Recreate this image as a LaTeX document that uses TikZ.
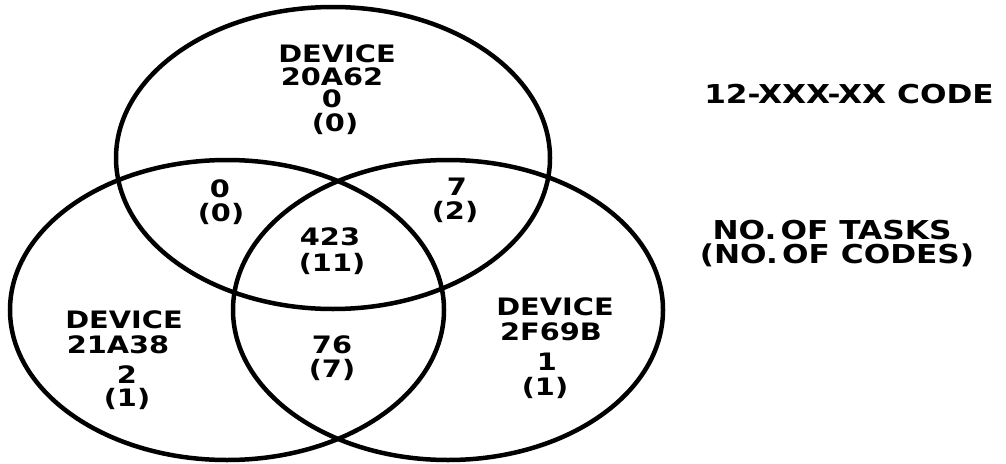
\documentclass[tikz,border=0pt]{standalone}
\usepackage{fontspec}
\newfontfamily\lab{DejaVu Sans}[FakeStretch=1.2]
\tikzset{
  ring/.style={draw=black, line width=4.5pt},
  txt/.style={anchor=base, inner sep=0pt, font=\lab\bfseries\fontsize{24}{24}\selectfont},
  leg/.style={anchor=base, inner sep=0pt, font=\lab\bfseries\fontsize{26}{26}\selectfont}
}
\begin{document}
\begin{tikzpicture}[x=1pt,y=-1pt]
\useasboundingbox (0,0) rectangle (1006,463);
% circles
\draw[ring] (333,158) ellipse [x radius=217pt, y radius=151pt];
\draw[ring] (227,310) ellipse [x radius=217pt, y radius=150pt];
\draw[ring] (448,310) ellipse [x radius=215pt, y radius=150pt];
% top device
\node[txt] (tA) at (337,62) {DEVICE};
\node[txt] (tB) at (332,85) {20A62};
\node[txt] (tC) at (332,107) {0};
\node[txt] (tD) at (335,131) {(0)};
% top-left overlap
\node[txt] (lA) at (220,197) {0};
\node[txt] (lB) at (221,221) {(0)};
% top-right overlap
\node[txt] (rA) at (457,195) {7};
\node[txt] (rB) at (455,219) {(2)};
% centre
\node[txt] (cA) at (330,245) {423};
\node[txt] (cB) at (332,271) {(11)};
% bottom overlap
\node[txt] (bA) at (332,353) {76};
\node[txt] (bB) at (332,377) {(7)};
% left device
\node[txt] (dA) at (124,328) {DEVICE};
\node[txt] (dB) at (118,353) {21A38};
\node[txt] (dC) at (127,383) {2};
\node[txt] (dD) at (127,406) {(1)};
% right device
\node[txt] (eA) at (555,315) {DEVICE};
\node[txt] (eB) at (551,340) {2F69B};
\node[txt] (eC) at (547,370) {1};
\node[txt] (eD) at (545,395) {(1)};
% legend
\node[leg] (g1) at (849,103) {12-XXX-XX CODE};
\node[leg] (g2) at (832,239) {NO.\,OF TASKS};
\node[leg] (g3) at (837,263) {(NO.\,OF CODES)};
\end{tikzpicture}
\end{document}
